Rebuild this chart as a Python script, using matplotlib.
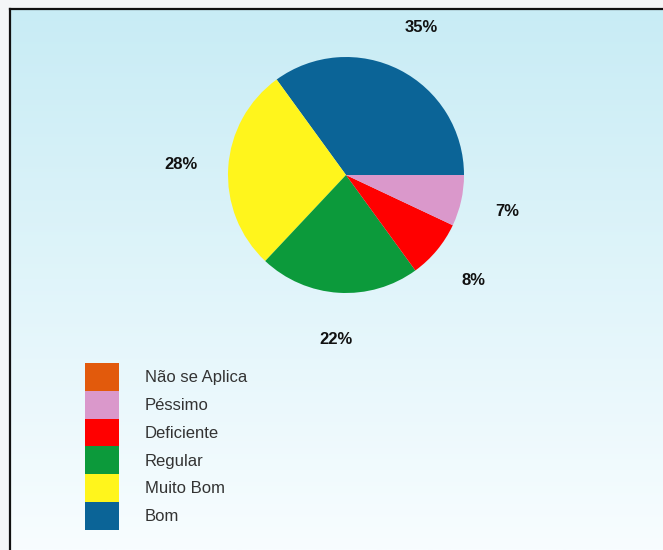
import numpy as np
import matplotlib
matplotlib.use('Agg')
import matplotlib.pyplot as plt
from matplotlib.patches import Patch
from matplotlib.lines import Line2D

plt.rcParams['font.family'] = ['Liberation Sans', 'DejaVu Sans']

# dados (ordem da legenda)
categorias = ['Não se Aplica', 'Péssimo', 'Deficiente', 'Regular', 'Muito Bom', 'Bom']
percentuais = [0, 7, 8, 22, 28, 35]
cores = ['#e25a0c', '#da98cb', '#ff0000', '#0c9a3b', '#fff51c', '#0b6497']

W, H = 663, 550
fig = plt.figure(figsize=(W / 100, H / 100), dpi=100)
fig.patch.set_facecolor('#f4f6f7')

# fundo com gradiente
bg = fig.add_axes([11 / W, 0, 1 - 11 / W, 1 - 9 / H])
grad = np.linspace(0, 1, 256).reshape(-1, 1)
cmap = matplotlib.colors.LinearSegmentedColormap.from_list('bg', ['#c8ecf5', '#f8fdff'])
bg.imshow(grad, aspect='auto', cmap=cmap, extent=[0, 1, 0, 1], origin='upper')
bg.set_axis_off()

# borda
fig.add_artist(Line2D([10 / W, 1], [1 - 9 / H, 1 - 9 / H], color='#111111', lw=1.6, transform=fig.transFigure))
fig.add_artist(Line2D([10 / W, 10 / W], [0, 1 - 9 / H], color='#111111', lw=1.6, transform=fig.transFigure))

# pizza
cx, cy, r = 346, 175, 118
ax = fig.add_axes([(cx - 2 * r) / W, 1 - (cy + 2 * r) / H, 4 * r / W, 4 * r / H])

valores = percentuais[::-1]
cores_pie = cores[::-1]


def rotulo(p):
    return '%d%%' % round(p) if p > 0.5 else ''


wedges, textos, autotextos = ax.pie(valores, colors=cores_pie, startangle=0, counterclock=True,
                                    autopct=rotulo, pctdistance=1.40, radius=1,
                                    wedgeprops=dict(linewidth=0))
for t in autotextos:
    t.set_fontsize(12)
    t.set_fontweight('bold')
    t.set_color('#111111')
ax.set_xlim(-2, 2)
ax.set_ylim(-2, 2)
ax.set_axis_off()

# legenda
fs = 12
px = fs * 100 / 72
hh = (27.8 / px - 0.245) / 0.65
handles = [Patch(facecolor=c, edgecolor='none') for c in cores]
fig.legend(handles, categorias, loc='upper left', bbox_to_anchor=(85 / W, 1 - 363 / H),
           frameon=False, fontsize=fs, borderpad=0, borderaxespad=0,
           handlelength=34 / px, handleheight=hh,
           handletextpad=26 / px, labelspacing=0, labelcolor='#333333')

fig.savefig('out.png', dpi=100)
